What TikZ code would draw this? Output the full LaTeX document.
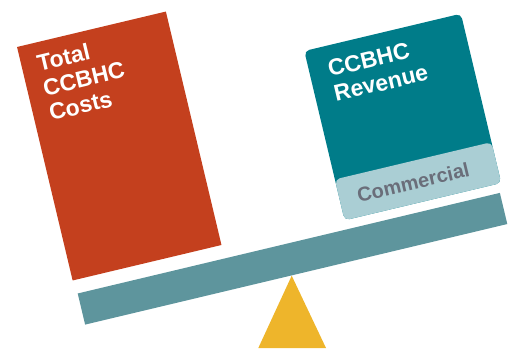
\documentclass[tikz,border=0pt]{standalone}
\usepackage{fontspec}
\setmainfont{Liberation Sans}
\usetikzlibrary{positioning}
\definecolor{costred}{HTML}{C4401E}
\definecolor{revteal}{HTML}{007C89}
\definecolor{commblue}{HTML}{AACED4}
\definecolor{beamteal}{HTML}{5E959D}
\definecolor{fulcrumgold}{HTML}{EEB52B}
\definecolor{commgray}{HTML}{6A6E7A}

\begin{document}
\begin{tikzpicture}[x=1pt, y=-1pt,
    block/.style={rectangle, inner sep=0pt, transform shape},
    heading/.style={anchor=north west, inner sep=0pt, align=left, text=white, font=\fontsize{23}{25.5}\selectfont\bfseries, transform shape}]
    \useasboundingbox (0,0) rectangle (516,348);

    % Fulcrum and beam
    \fill[fulcrumgold] (291.7,275.7) -- (258.3,348) -- (326,348) -- cycle;
    \node (beam) [block, fill=beamteal, minimum width=434, minimum height=32, rotate=13.4] at (292.5,258.75) {};

    % Costs
    \begin{scope}[shift={(119.25,146)}, rotate=13.4]
        \node (costs) [block, fill=costred, minimum width=153, minimum height=240] at (0,0) {};
        \node (coststitle) [heading] at (-60.5,-108) {Total\\CCBHC\\Costs};
    \end{scope}

    % Revenue
    \begin{scope}[shift={(402.75,117)}, rotate=13.4]
        \node (revenue) [block, fill=revteal, rounded corners=5, minimum width=161, minimum height=174] at (0,0) {};
        \node (revenuetitle) [heading] at (-61.5,-72) {CCBHC\\Revenue};
        \node (commercial) [block, fill=commblue, rounded corners=5, minimum width=161, minimum height=42] at (0,66) {};
        \node (commercialtext) [inner sep=0pt, text=commgray, font=\fontsize{20}{24}\selectfont\bfseries, transform shape] at (-5,66) {Commercial};
    \end{scope}
\end{tikzpicture}
\end{document}
